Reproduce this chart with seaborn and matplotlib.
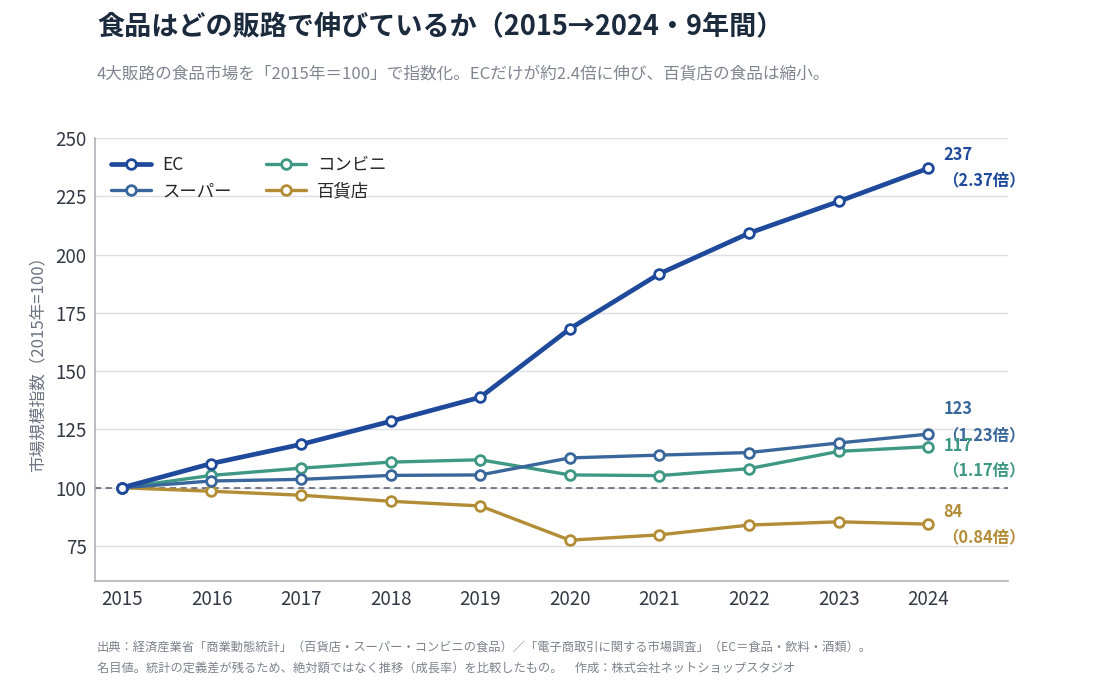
import matplotlib
matplotlib.use("Agg")
import matplotlib.pyplot as plt
import seaborn as sns
import pandas as pd

years = [2015, 2016, 2017, 2018, 2019, 2020, 2021, 2022, 2023, 2024]
ec = [100, 110.4, 118.6, 128.5, 138.8, 168.2, 191.8, 209.2, 222.8, 237]
super_ = [100, 102.9, 103.6, 105.3, 105.5, 112.8, 114.0, 115.1, 119.2, 123]
conv = [100, 105.3, 108.4, 111.0, 112.0, 105.5, 105.2, 108.2, 115.6, 117.6]
dept = [100, 98.5, 96.8, 94.2, 92.2, 77.5, 79.8, 84.0, 85.4, 84.4]

series_names = ["EC", "スーパー", "コンビニ", "百貨店"]
end_values = ["237", "123", "117", "84"]
end_ratios = ["（2.37倍）", "（1.23倍）", "（1.17倍）", "（0.84倍）"]

title = "食品はどの販路で伸びているか（2015→2024・9年間）"
subtitle = "4大販路の食品市場を「2015年＝100」で指数化。ECだけが約2.4倍に伸び、百貨店の食品は縮小。"
ylabel = "市場規模指数（2015年=100）"
footer1 = "出典：経済産業省「商業動態統計」（百貨店・スーパー・コンビニの食品）／「電子商取引に関する市場調査」（EC＝食品・飲料・酒類）。"
footer2 = "名目値。統計の定義差が残るため、絶対額ではなく推移（成長率）を比較したもの。　作成：株式会社ネットショップスタジオ"
yticks = [75, 100, 125, 150, 175, 200, 225, 250]

df = pd.DataFrame({
    "year": years * 4,
    "value": ec + super_ + conv + dept,
    "series": sum([[n] * len(years) for n in series_names], []),
})

colors = {"EC": "#1f4a9b", "スーパー": "#3a679b", "コンビニ": "#3f9884", "百貨店": "#b38d36"}
lws = {"EC": 3.4, "スーパー": 2.4, "コンビニ": 2.4, "百貨店": 2.4}
# label vertical offsets in pixels (value label, ratio label)
label_off = {"EC": (13, -12), "スーパー": (25, -1), "コンビニ": (1, -24), "百貨店": (12, -13)}

sns.set_theme(style="white")
fam = ["Noto Sans CJK JP", "DejaVu Sans"]
plt.rcParams["font.family"] = fam

fig = plt.figure(figsize=(11.2, 6.88), dpi=100)
ax = fig.add_axes([0.0848, 0.1555, 0.9 - 0.0848, 0.7994 - 0.1555])

ax.axhline(100, color="#555a66", lw=1.1, ls=(0, (4, 3)), zorder=1)

order_z = {"EC": 5, "スーパー": 4, "コンビニ": 3, "百貨店": 2}
for name in series_names:
    sub = df[df["series"] == name]
    c = colors[name]
    sns.lineplot(data=sub, x="year", y="value", ax=ax, color=c, lw=lws[name],
                 marker="o", markersize=7, markerfacecolor="white",
                 markeredgecolor=c, markeredgewidth=2.0, label=name,
                 zorder=order_z[name])

for i, name in enumerate(series_names):
    sub = df[df["series"] == name]
    xv = sub["year"].iloc[-1]
    yv = sub["value"].iloc[-1]
    c = colors[name]
    dv, dr = label_off[name]
    ax.annotate(end_values[i], (xv, yv), xytext=(15, dv), textcoords="offset pixels",
                ha="left", va="center", fontsize=11.8, fontweight="bold", color=c,
                family=fam)
    ax.annotate(end_ratios[i], (xv, yv), xytext=(14, dr), textcoords="offset pixels",
                ha="left", va="center", fontsize=11.8, fontweight="bold", color=c,
                family=fam)

ax.set_xlim(2014.7, 2024.89)
ax.set_ylim(60, 250)
ax.set_xticks(years)
ax.set_xticklabels([str(y) for y in years])
ax.set_yticks(yticks)
ax.tick_params(axis="both", length=0, labelsize=13.5, colors="#333a44", pad=6)
ax.grid(axis="y", color="#dcdee6", lw=1)
ax.set_axisbelow(True)
for s in ["top", "right"]:
    ax.spines[s].set_visible(False)
for s in ["left", "bottom"]:
    ax.spines[s].set_color("#a9a9b2")
    ax.spines[s].set_linewidth(1.1)
ax.set_xlabel("")
ax.set_ylabel(ylabel, fontsize=12, color="#6b7280", labelpad=6)

handles, labels = ax.get_legend_handles_labels()
ax.legend(handles, labels, ncol=2, loc="upper left", bbox_to_anchor=(0.0, 0.995),
          frameon=False, fontsize=12.5, handlelength=2.3, columnspacing=2.0,
          labelspacing=0.5, handletextpad=0.65)

fig.text(0.0866, 0.96, title, fontsize=19.5, fontweight="bold", color="#1b2a3d",
         va="center", ha="left", family=fam)
fig.text(0.0866, 0.893, subtitle, fontsize=12, color="#808590",
         va="center", ha="left", family=fam)
fig.text(0.0866, 0.058, footer1, fontsize=8.8, color="#7d828c",
         va="center", ha="left", family=fam)
fig.text(0.0866, 0.029, footer2, fontsize=8.8, color="#7d828c",
         va="center", ha="left", family=fam)

fig.savefig("out.png", dpi=100, facecolor="white")
